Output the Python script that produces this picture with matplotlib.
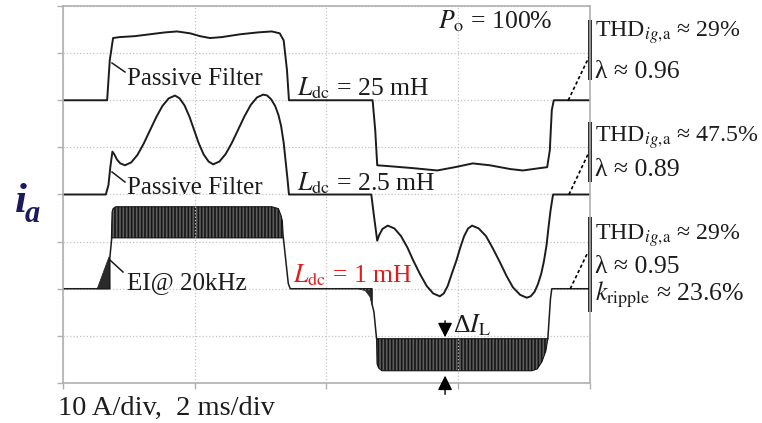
import numpy as np
import matplotlib
matplotlib.use("Agg")
import matplotlib.pyplot as plt

plt.rcParams['font.family'] = ['Liberation Serif', 'DejaVu Serif']
plt.rcParams['mathtext.fontset'] = 'stix'
plt.rcParams['hatch.linewidth'] = 1.2

# time axis in ms, currents in A (10 A/div), each trace sits on its own offset (div)
offsets = {'25mH': 6, '2.5mH': 4, '1mH': 2}
amps_per_div = 10

# Ldc = 25 mH, passive filter
t_25 = [0, 0.67, 0.71, 0.76, 0.86, 1.09, 1.32, 1.55, 1.73, 1.93, 2.08, 2.23, 2.41, 2.69, 2.96,
        3.17, 3.29, 3.35, 3.40, 3.43,
        4.70, 4.74, 4.77, 4.96, 5.31, 5.68, 5.95, 6.22, 6.48, 6.79, 6.98, 7.24, 7.35, 7.39, 7.42, 7.45, 8.0]
i_25 = [0, 0, 8.5, 13.2, 13.4, 13.6, 14.0, 14.4, 14.6, 14.2, 13.6, 13.2, 13.4, 14.0, 14.4,
        14.6, 14.2, 12.7, 6.4, 0,
        0, -6.4, -13.8, -14.0, -14.4, -14.9, -14.2, -13.4, -13.8, -14.6, -14.9, -14.4, -14.2, -10.6, -2.1, 0, 0]

# Ldc = 2.5 mH, passive filter
t_2p5 = [0, 0.65, 0.69, 0.72, 0.75, 0.78, 0.82, 0.87, 0.94,
         1.035, 1.13, 1.225, 1.32, 1.415, 1.51, 1.605, 1.70,
         1.77, 1.845, 1.92, 1.99, 2.06, 2.135, 2.21, 2.28,
         2.375, 2.47, 2.565, 2.66, 2.755, 2.85, 2.945, 3.04,
         3.10, 3.16, 3.22, 3.27, 3.31, 3.35, 3.38, 3.41, 3.43,
         4.68, 4.72, 4.77, 4.80, 4.85, 4.93,
         5.03, 5.13, 5.23, 5.32, 5.42, 5.52, 5.62, 5.72,
         5.78, 5.84, 5.90, 5.97, 6.03, 6.09, 6.15, 6.21,
         6.31, 6.42, 6.52, 6.63, 6.73, 6.83, 6.94, 7.04,
         7.10, 7.16, 7.21, 7.26, 7.30, 7.34, 7.37, 7.40, 7.43, 7.44, 8.0]
i_2p5 = [0, 0, 2.0, 6.0, 9.1, 8.5, 7.4, 6.6, 6.2,
         6.8, 8.4, 10.8, 13.6, 16.4, 18.8, 20.4, 21.0,
         20.4, 18.9, 16.5, 13.7, 10.9, 8.5, 7.0, 6.4,
         7.0, 8.6, 11.0, 13.8, 16.6, 19.0, 20.6, 21.2,
         21.0, 20.2, 18.8, 16.9, 14.6, 11.0, 7.0, 3.0, 0,
         0, -4.5, -9.8, -8.6, -7.3, -6.6,
         -7.2, -8.8, -11.3, -14.1, -16.9, -19.4, -21.0, -21.6,
         -21.0, -19.4, -16.9, -14.1, -11.3, -8.8, -7.2, -6.6,
         -7.2, -8.8, -11.3, -14.3, -17.2, -19.7, -21.3, -21.9,
         -21.6, -20.6, -19.0, -16.8, -14.2, -10.8, -7.0, -3.5, -0.8, 0, 0]

# Ldc = 1 mH, EI @ 20 kHz: outline between the switching bands
t_1 = [0, 0.71, 0.71, 0.74, np.nan, 3.345, 3.42, 3.45, 4.69, 4.69, 4.72, 4.76, np.nan,
       7.36, 7.40, 7.42, 8.0]
i_1 = [0, 0, 6.4, 10.8, np.nan, 10.8, 1.1, 0, 0, -3.2, -4.9, -10.6, np.nan,
       -10.6, -2.1, 0, 0]

# switching ripple envelopes
band_pos_t = [0.735, 0.745, 0.76, 0.80, 3.17, 3.27, 3.31, 3.33, 3.345]
band_pos_hi = [10.8, 16.3, 17.0, 17.4, 17.4, 17.0, 15.5, 14.4, 10.8]
band_pos_lo = [10.8, 10.8, 10.8, 10.8, 10.8, 10.8, 10.8, 10.8, 10.8]
band_neg_t = [4.76, 4.767, 4.79, 4.84, 7.12, 7.20, 7.27, 7.33, 7.36]
band_neg_hi = [-10.6, -10.6, -10.6, -10.6, -10.6, -10.6, -10.6, -10.6, -10.6]
band_neg_lo = [-10.6, -15.9, -16.8, -17.4, -17.4, -17.0, -15.5, -13.2, -10.6]

# small ripple wedges near the zero crossings
ramp_pos_t = [0.52, 0.70, 0.71]
ramp_pos_i = [0, 6.8, 0]
ramp_neg_t = [4.48, 4.59, 4.66, 4.69, 4.69]
ramp_neg_i = [0, -0.4, -1.7, -3.4, 0]

ink = '#1c1c1c'
grey = '#b0b0b0'


def lvl(i, key):
    return offsets[key] + np.asarray(i, dtype=float) / amps_per_div


fig = plt.figure(figsize=(7.62, 4.23), dpi=100)
ax = fig.add_axes([63 / 762, 40 / 423, 527 / 762, 377 / 423])
ax.set_xlim(0, 8)
ax.set_ylim(0, 8)
ax.set_xticks([0, 2, 4, 6, 8])
ax.set_yticks(range(9))
ax.set_xticklabels([])
ax.set_yticklabels([])
ax.tick_params(direction='out', length=4, width=1, color=grey)
ax.grid(True, linestyle=':', color='#c4c4c4', linewidth=0.9)
for s in ax.spines.values():
    s.set_color(grey)
    s.set_linewidth(1.2)

ax.plot(t_25, lvl(i_25, '25mH'), color=ink, lw=1.4)
ax.plot(t_2p5, lvl(i_2p5, '2.5mH'), color=ink, lw=1.4)
ax.plot(t_1, lvl(i_1, '1mH'), color=ink, lw=1.1)

for bt, hi, lo in [(band_pos_t, band_pos_hi, band_pos_lo), (band_neg_t, band_neg_hi, band_neg_lo)]:
    ax.fill_between(bt, lvl(lo, '1mH'), lvl(hi, '1mH'), facecolor='#5e5e5e',
                    edgecolor='#151515', hatch='|||||', linewidth=0.8)
ax.fill(ramp_pos_t, lvl(ramp_pos_i, '1mH'), color='#2a2a2a', lw=0.6)
ax.fill(ramp_neg_t, lvl(ramp_neg_i, '1mH'), color='#2a2a2a', lw=0.6)

# labels on the traces
fs = 18
ax.text(0.97, 6.32, 'Passive Filter', fontsize=fs, color=ink)
ax.text(0.97, 4.01, 'Passive Filter', fontsize=fs, color=ink)
ax.text(0.97, 2.0, 'EI@ 20kHz', fontsize=fs, color=ink)
ax.plot([0.744, 0.941], [6.79, 6.60], color=ink, lw=1.1)
ax.plot([0.744, 0.941], [4.478, 4.265], color=ink, lw=1.1)
ax.plot([0.713, 0.911], [2.61, 2.355], color=ink, lw=1.1)

ax.text(3.55, 6.11, r'$L_{\mathrm{dc}}$ = 25 mH', fontsize=18.5, color=ink)
ax.text(3.55, 4.085, r'$L_{\mathrm{dc}}$ = 2.5 mH', fontsize=18.5, color=ink)
ax.text(3.49, 2.143, r'$L_{\mathrm{dc}}$ = 1 mH', fontsize=18.5, color='#e41a1a')
ax.text(5.69, 7.53, r'$P_{\mathrm{o}}$ = 100%', fontsize=18.5, color=ink)

# ripple amplitude marker
ax.annotate('', xy=(5.80, 0.912), xytext=(5.80, 1.38),
            arrowprops=dict(arrowstyle='-|>', color='k', lw=1, mutation_scale=22))
ax.annotate('', xy=(5.80, 0.215), xytext=(5.80, -0.30), annotation_clip=False,
            arrowprops=dict(arrowstyle='-|>', color='k', lw=1, mutation_scale=22))
ax.text(5.92, 1.082, r'Δ$I_{\mathrm{L}}$', fontsize=18.5, color=ink)

# performance summary at the right edge
for y0, y1 in [(7.70, 6.43), (5.54, 4.27), (3.52, 1.51)]:
    ax.plot([8.0, 8.0], [y0, y1], color='k', lw=2.6, solid_capstyle='butt', clip_on=False)
for (xa, ya), (xb, yb) in [((7.67, 6.0), (7.985, 6.92)), ((7.68, 4.0), (7.985, 4.90)),
                           ((7.70, 2.0), (7.97, 2.78))]:
    ax.plot([xa, xb], [ya, yb], color='k', lw=1.2, ls=(0, (2, 1.5)), clip_on=False)

thd = r'THD$_{ig,\!\mathrm{a}}$'
notes = [(7.342, thd + ' ≈ 29%'),
         (6.47, 'λ ≈ 0.96'),
         (5.114, thd + ' ≈ 47.5%'),
         (4.393, 'λ ≈ 0.89'),
         (3.034, thd + ' ≈ 29%'),
         (2.334, 'λ ≈ 0.95'),
         (1.761, r'$k_{\mathrm{ripple}}$ ≈ 23.6%')]
for y, s in notes:
    size = 17.2 if s.startswith('THD') else 18.5
    ax.text(8.076, y, s, fontsize=size, color=ink, clip_on=False)

ax.text(-0.076, -0.679, '10 A/div,  2 ms/div', fontsize=20.5, color=ink, clip_on=False)

fig.text(15 / 762, 1 - 212 / 423, 'i', fontsize=31, fontweight='bold', style='italic', color='#1b1b5c')
fig.text(25 / 762, 1 - 222 / 423, 'a', fontsize=22, fontweight='bold', style='italic', color='#1b1b5c')

fig.savefig('out.png', dpi=100)
